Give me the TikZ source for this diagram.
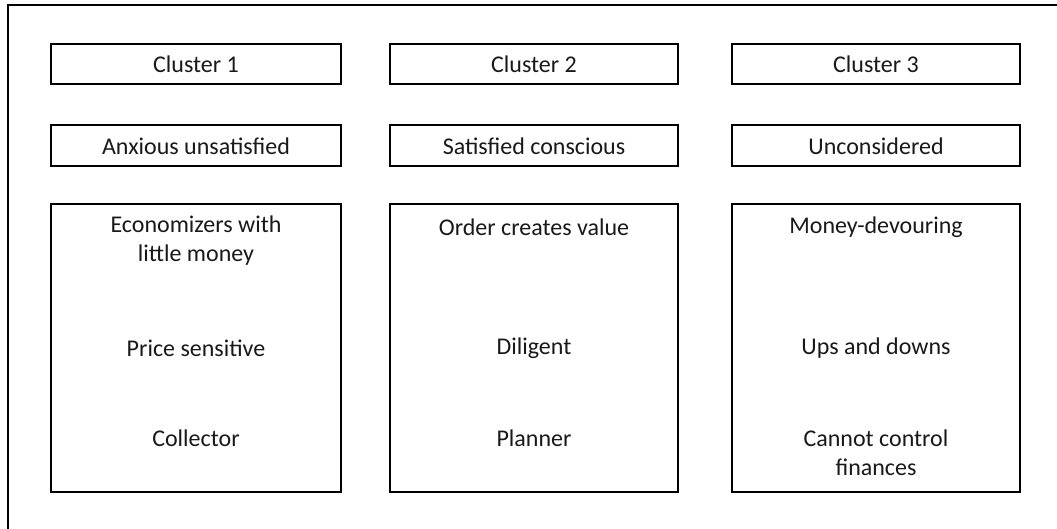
\documentclass[tikz,border=0pt]{standalone}
\usepackage{fontspec}
\setmainfont{Carlito}
\begin{document}
\begin{tikzpicture}[x=1pt,y=-1pt,
  every node/.style={font=\fontsize{24}{29}\selectfont, text=black!90},
  frame/.style={draw=black, line width=2.6pt},
  boxline/.style={draw=black, line width=1.8pt},
  label/.style={align=center, inner sep=0pt}]
\useasboundingbox (0,0) rectangle (1057,529);
\fill[white] (0,0) rectangle (1057,529);

% outer frame: top and left rules
\coordinate (ftl) at (8,5);
\coordinate (ftr) at (1057,5);
\coordinate (fbl) at (8,529);
\draw[frame] (ftr) -- (ftl) -- (fbl);

% three columns of boxes
\foreach \i/\xl/\xr in {1/51/341, 2/390/678, 3/732/1020} {
  \draw[boxline] (\xl,44) rectangle (\xr,84);
  \draw[boxline] (\xl,125) rectangle (\xr,166);
  \draw[boxline] (\xl,204) rectangle (\xr,492);
}

% cluster headers
\node[label] (c1) at (196,64) {Cluster 1};
\node[label] (c2) at (534,64) {Cluster 2};
\node[label] (c3) at (876,64) {Cluster 3};

% cluster names
\node[label] (n1) at (196,146) {Anxious unsatisfied};
\node[label] (n2) at (534,146) {Satisfied conscious};
\node[label] (n3) at (876,146) {Unconsidered};

% money types, cluster 1
\node[label] (a1) at (196,241) {Economizers with\\little money};
\node[label] (a2) at (196,348) {Price sensitive};
\node[label] (a3) at (196,438) {Collector};

% money types, cluster 2
\node[label] (b1) at (534,227) {Order creates value};
\node[label] (b2) at (534,348) {Diligent};
\node[label] (b3) at (534,438) {Planner};

% money types, cluster 3
\node[label] (d1) at (876,227) {Money-devouring};
\node[label] (d2) at (876,348) {Ups and downs};
\node[label] (d3) at (876,453) {Cannot control\\finances};
\end{tikzpicture}
\end{document}
